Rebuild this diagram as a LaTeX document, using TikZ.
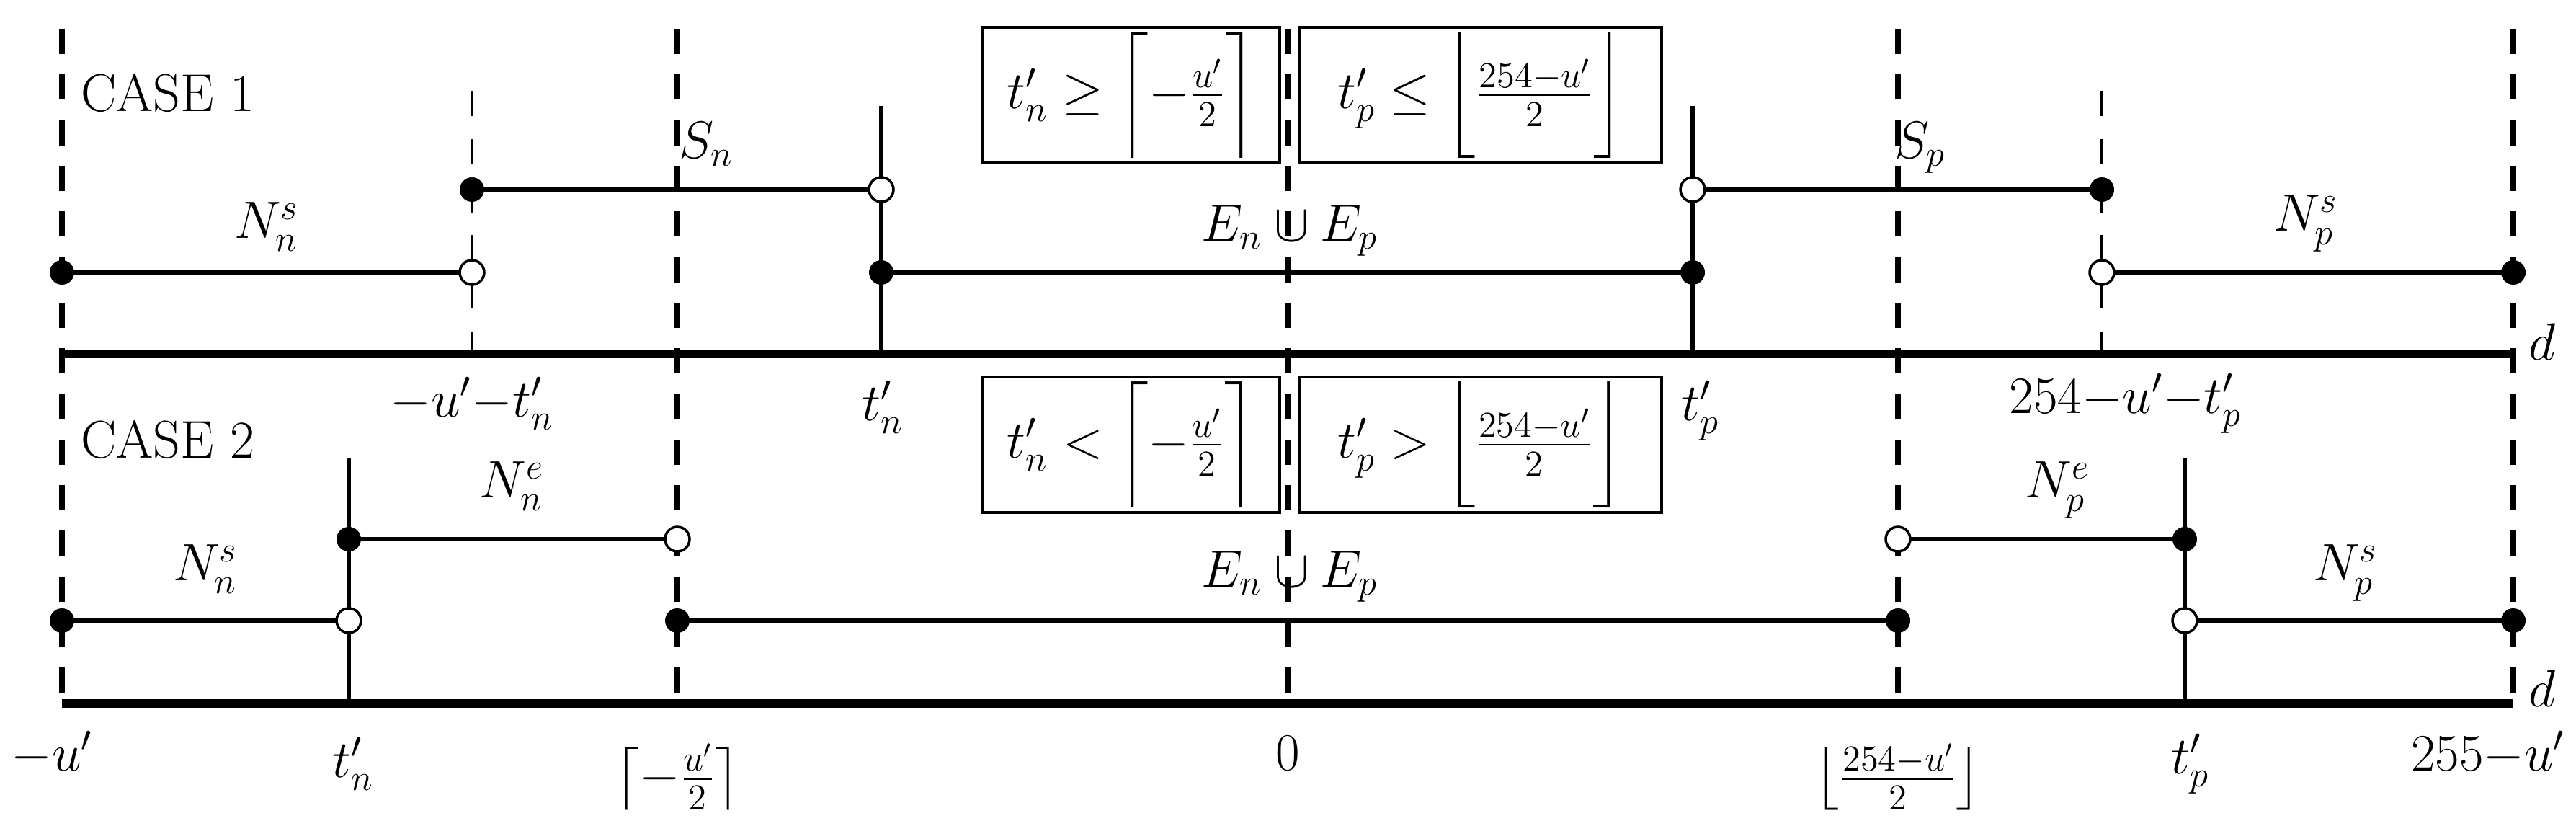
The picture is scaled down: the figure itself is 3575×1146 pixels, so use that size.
\documentclass[tikz,border=0pt]{standalone}
\usepackage{amsmath}
\newcommand{\tallph}{\vphantom{\dfrac{A}{A}}}
\begin{document}
\begin{tikzpicture}[x=0.01cm,y=-0.01cm,
  every node/.style={font=\fontsize{21}{25}\selectfont},
  xl/.style={font=\fontsize{20}{24}\selectfont},
  grid/.style={line width=2.2pt,dash pattern=on 10pt off 8pt},
  thin grid/.style={line width=0.9pt,dash pattern=on 10pt off 9pt},
  axis/.style={line width=3.2pt},
  seg/.style={line width=1.8pt},
  odot/.style={draw=black,fill=white,line width=1pt},
  cond/.style={draw,line width=1pt,inner sep=1pt,minimum height=1.88cm,fill=white}]
\useasboundingbox (0,0) rectangle (3575,1146);
% dashed verticals
\foreach \x in {86,940,1787,2634,3488} \draw[grid] (\x,40) -- (\x,976);
\draw[thin grid] (655,126) -- (655,491);
\draw[thin grid] (2917,126) -- (2917,491);
% axes
\draw[axis] (86,491) -- (3488,491);
\draw[axis] (86,976) -- (3488,976);
\node (d1) at (3528,474) {$d$};
\node (d2) at (3528,955) {$d$};
% case 1
\node[anchor=west] (c1) at (100,129) {CASE 1};
\draw[seg] (1223,147) -- (1223,491);
\draw[seg] (2349,147) -- (2349,491);
\draw[seg] (86,378) -- (655,378);
\draw[seg] (655,263) -- (1223,263);
\draw[seg] (1223,378) -- (2349,378);
\draw[seg] (2349,263) -- (2917,263);
\draw[seg] (2917,378) -- (3488,378);
\foreach \p in {(86,378),(655,263),(1223,378),(2349,378),(2917,263),(3488,378)} \fill \p circle (17);
\foreach \p in {(655,378),(1223,263),(2349,263),(2917,378)} \draw[odot] \p circle (17);
\node (l1) at (370,315) {$N_n^s$};
\node (l2) at (980,200) {$S_n$};
\node (l3) at (1790,320) {$E_n\cup E_p$};
\node (l4) at (2665,205) {$S_p$};
\node (l5) at (3200,310) {$N_p^s$};
\node[cond,minimum width=4.12cm] (b1) at (1570,132) {$t'_n\geq\left\lceil-\frac{u'}{2}\tallph\right\rceil$};
\node[cond,minimum width=5.02cm] (b2) at (2055,132) {$t'_p\leq\left\lfloor\frac{254-u'}{2}\tallph\right\rfloor$};
\node (a1) at (655,560) {$-u'{-}t'_n$};
\node (a2) at (1225,565) {$t'_n$};
\node (a3) at (2360,570) {$t'_p$};
\node (a4) at (2950,560) {$254{-}u'{-}t'_p$};
% case 2
\node[anchor=west] (c2) at (100,610) {CASE 2};
\draw[seg] (484,636) -- (484,976);
\draw[seg] (3032,636) -- (3032,976);
\draw[seg] (86,861) -- (484,861);
\draw[seg] (484,748) -- (940,748);
\draw[seg] (940,861) -- (2634,861);
\draw[seg] (2634,748) -- (3032,748);
\draw[seg] (3032,861) -- (3488,861);
\foreach \p in {(86,861),(484,748),(940,861),(2634,861),(3032,748),(3488,861)} \fill \p circle (17);
\foreach \p in {(484,861),(940,748),(2634,748),(3032,861)} \draw[odot] \p circle (17);
\node (m1) at (285,790) {$N_n^s$};
\node (m2) at (710,675) {$N_n^e$};
\node (m3) at (1790,800) {$E_n\cup E_p$};
\node (m4) at (2855,680) {$N_p^e$};
\node (m5) at (3255,795) {$N_p^s$};
\node[cond,minimum width=4.12cm] (b3) at (1570,617) {$t'_n<\left\lceil-\frac{u'}{2}\tallph\right\rceil$};
\node[cond,minimum width=5.02cm] (b4) at (2055,617) {$t'_p>\left\lfloor\frac{254-u'}{2}\tallph\right\rfloor$};
% bottom labels
\node[xl] (x1) at (72,1045) {$-u'$};
\node[xl] (x2) at (490,1060) {$t'_n$};
\node[xl] (x3) at (940,1078) {$\left\lceil-\frac{u'}{2}\right\rceil$};
\node[xl] (x4) at (1787,1045) {$0$};
\node[xl] (x5) at (2634,1078) {$\left\lfloor\frac{254-u'}{2}\right\rfloor$};
\node[xl] (x6) at (3040,1060) {$t'_p$};
\node[xl,anchor=east] (x7) at (3572,1045) {$255{-}u'$};
\end{tikzpicture}
\end{document}
